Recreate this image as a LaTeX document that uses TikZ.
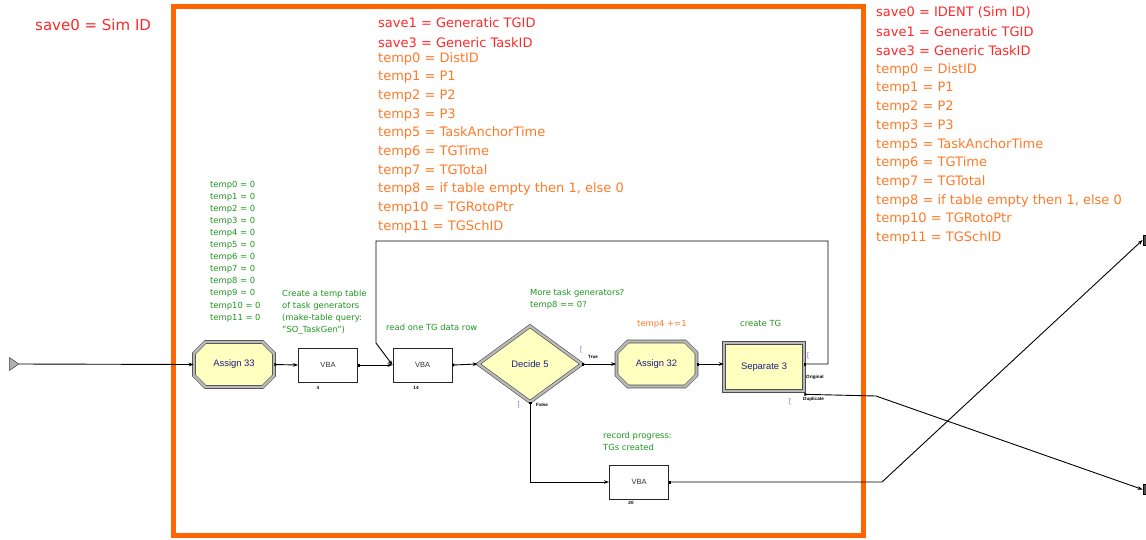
\documentclass[tikz,border=0pt]{standalone}
\usepackage{fontspec}
\setmainfont{DejaVu Sans}
\newfontfamily\boxfont{Liberation Sans}
\usetikzlibrary{shapes.geometric,shapes.misc,arrows.meta}
\definecolor{frameor}{RGB}{255,102,0}
\definecolor{redtxt}{RGB}{255,40,40}
\definecolor{orgtxt}{RGB}{255,122,40}
\definecolor{grntxt}{RGB}{30,150,30}
\definecolor{boxfill}{RGB}{255,255,192}
\definecolor{lbltxt}{RGB}{30,30,130}
\definecolor{markc}{RGB}{150,90,200}
\begin{document}
\begin{tikzpicture}[x=1pt,y=-1pt,
  rtxt/.style={anchor=west,inner sep=0,text=redtxt,font=\fontsize{13}{15}\selectfont},
  otxt/.style={anchor=west,inner sep=0,text=orgtxt,font=\fontsize{13}{15}\selectfont},
  gtxt/.style={anchor=west,inner sep=0,text=grntxt,font=\fontsize{8.4}{12}\selectfont,align=left},
  arena/.style={fill=boxfill,draw=gray!60!black,line width=0.6pt,double=gray!55,double distance=2.4pt,
     text=lbltxt,font=\boxfont\fontsize{9.4}{11}\selectfont,inner sep=0},
  assignbox/.style={arena,chamfered rectangle,chamfered rectangle xsep=7pt,chamfered rectangle ysep=7pt,
     minimum width=80pt,minimum height=45pt},
  vbabox/.style={draw=black!85,line width=1pt,fill=white,minimum width=59pt,minimum height=34pt,
     inner sep=0,font=\boxfont\fontsize{7.5}{9}\selectfont,text=black!80},
  tinylbl/.style={inner sep=0,font=\boxfont\bfseries\fontsize{4.6}{5}\selectfont,text=black},
  portmark/.style={inner sep=0,font=\boxfont\fontsize{7}{7}\selectfont,text=markc},
  conn/.style={draw=black,line width=0.9pt,{Square[length=1.8pt,width=2.8pt]}-{Stealth[length=5pt,width=3.6pt]}},
  plainln/.style={draw=black,line width=0.9pt}
]
\useasboundingbox (0,0) rectangle (1146,539);

% orange frame
\draw[frameor,line width=5pt] (173,6) rectangle (863,535);

% left title
\node[rtxt,font=\fontsize{15}{17}\selectfont] (t0) at (35,25) {save0 = Sim ID};

% middle block
\node[rtxt] (ms1) at (378,23) {save1 = Generatic TGID};
\node[rtxt] (ms3) at (378,43) {save3 = Generic TaskID};
\foreach \t [count=\i from 0] in {temp0 = DistID, temp1 = P1, temp2 = P2, temp3 = P3,
   temp5 = TaskAnchorTime, temp6 = TGTime, temp7 = TGTotal, {temp8 = if table empty then 1, else 0},
   temp10 = TGRotoPtr, temp11 = TGSchID}
  \node[otxt] (mt\i) at (378,{58.5+18.7*\i}) {\t};

% right block
\node[rtxt] (rs0) at (876,12.5) {save0 = IDENT (Sim ID)};
\node[rtxt] (rs1) at (876,31.5) {save1 = Generatic TGID};
\node[rtxt] (rs3) at (876,50.5) {save3 = Generic TaskID};
\foreach \t [count=\i from 0] in {temp0 = DistID, temp1 = P1, temp2 = P2, temp3 = P3,
   temp5 = TaskAnchorTime, temp6 = TGTime, temp7 = TGTotal, {temp8 = if table empty then 1, else 0},
   temp10 = TGRotoPtr, temp11 = TGSchID}
  \node[otxt] (rt\i) at (876,{69.5+18.75*\i}) {\t};

% green assign list
\foreach \t [count=\i from 0] in {temp0 = 0, temp1 = 0, temp2 = 0, temp3 = 0, temp4 = 0, temp5 = 0,
   temp6 = 0, temp7 = 0, temp8 = 0, temp9 = 0, temp10 = 0, temp11 = 0}
  \node[gtxt] (g\i) at (210,{185+12.08*\i}) {\t};

\node[gtxt,anchor=north west] (cmt1) at (282,290) {Create a temp table\\of task generators\\(make-table query:\\"SO\_TaskGen")};
\node[gtxt] (cmt2) at (386,327) {read one TG data row};
\node[gtxt,anchor=north west] (cmt3) at (530,289) {More task generators?\\temp8 == 0?};
\node[gtxt,text=orgtxt] (cmt4) at (637,324) {temp4 +=1};
\node[gtxt] (cmt5) at (740,323) {create TG};
\node[gtxt,anchor=north west] (cmt6) at (603,432) {record progress:\\TGs created};

% modules
\node[isosceles triangle,isosceles triangle apex angle=70,fill=gray!60,draw=black!80,line width=0.5pt,
  minimum width=10pt,minimum height=9pt,inner sep=0] (src) at (13,364) {};
\node[assignbox] (a33) at (234,364.5) {Assign 33};
\node[vbabox] (vba1) at (328,365) {VBA};
\node[vbabox] (vba2) at (422.5,365) {VBA};
\node[arena,diamond,minimum width=104pt,minimum height=76pt,aspect=1.37] (dec) at (530,364) {Decide 5};
\node[assignbox] (a32) at (656.5,364) {Assign 32};
\node[arena,rectangle,minimum width=80pt,minimum height=48pt] (sep) at (764,367) {Separate 3};
\node[vbabox] (vba3) at (639,482) {VBA};
\node[fill=black!70,draw=black,line width=0.3pt,minimum width=3.5pt,minimum height=10pt,inner sep=0] (out1) at (1144.5,240) {};
\node[fill=black!70,draw=black,line width=0.3pt,minimum width=3.5pt,minimum height=10pt,inner sep=0] (out2) at (1144.5,489.5) {};

% small labels
\node[tinylbl] (n4) at (318,388) {4};
\node[tinylbl] (n14) at (416,388) {14};
\node[tinylbl] (n20) at (631,503) {20};
\node[tinylbl,anchor=west] (ltrue) at (588,357) {True};
\node[tinylbl,anchor=west] (lfalse) at (536,405) {False};
\node[tinylbl,anchor=west] (lorig) at (806,377) {Original};
\node[tinylbl,anchor=west] (ldup) at (803,399.5) {Duplicate};
\node[portmark] (m1) at (581,350) {[};
\node[portmark] (m2) at (518.5,405) {[};
\node[portmark] (m3) at (808,356) {[};
\node[portmark] (m4) at (790,402) {[};

% connectors
\draw[plainln,-{Stealth[length=5pt,width=3.6pt]}] (src.east) -- (a33.west);
\draw[conn] (a33.east) -- (vba1.west);
\draw[conn] (vba1.east) -- (vba2.west);
\draw[conn] (vba2.east) -- (dec.west);
\draw[conn] (dec.east) -- (a32.west);
\draw[conn] (a32.east) -- (sep.west |- a32.east);
\draw[conn] (sep.east |- a32.east) -- (828,364) -- (828,241) -- (376,241) -- (376,343) -- (vba2.west);
\draw[conn] (dec.south) -- (530,482) -- (vba3.west);
\draw[conn] (vba3.east) -- (882,482) -- (out1.west);
\draw[conn] ([yshift=-3pt]sep.south east) -- (876,396) -- (out2.west);
\end{tikzpicture}
\end{document}
